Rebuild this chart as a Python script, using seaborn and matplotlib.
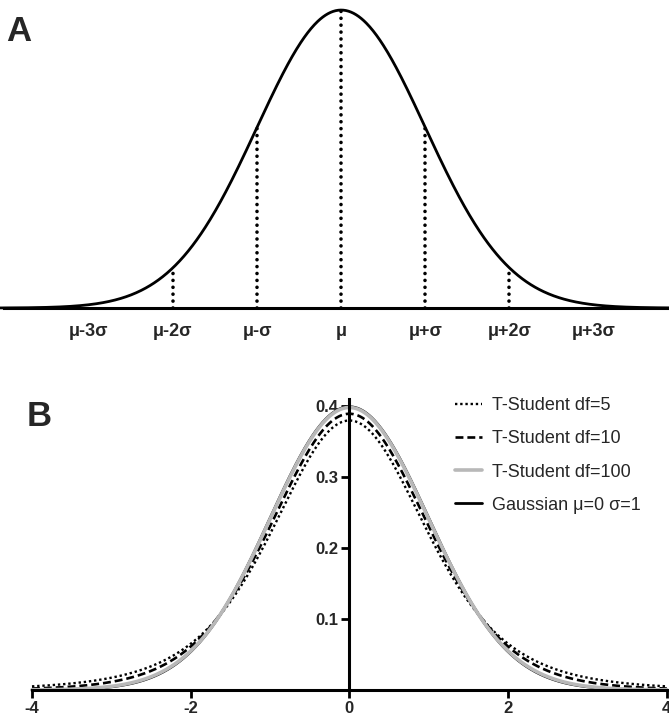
import math
import numpy as np
import pandas as pd
import matplotlib
matplotlib.use("Agg")
import matplotlib.pyplot as plt
import seaborn as sns

# ---- data ----
mu = 0.0
sigma = 1.0
sigma_marks = [-2, -1, 0, 1, 2]                 # dotted guide lines in panel A
a_tick_pos = [-3, -2, -1, 0, 1, 2, 3]
a_tick_labels = ["μ-3σ", "μ-2σ", "μ-σ", "μ", "μ+σ", "μ+2σ", "μ+3σ"]
df_values = [5, 10, 100]
series_labels = ["T-Student df=5", "T-Student df=10", "T-Student df=100", "Gaussian μ=0 σ=1"]
b_xticks = [-4, -2, 0, 2, 4]
b_yticks = [0.1, 0.2, 0.3, 0.4]


def norm_pdf(x, m=0.0, s=1.0):
    return np.exp(-0.5 * ((x - m) / s) ** 2) / (s * math.sqrt(2 * math.pi))


def t_pdf(x, nu):
    c = math.exp(math.lgamma((nu + 1) / 2) - math.lgamma(nu / 2)) / math.sqrt(nu * math.pi)
    return c * (1 + x ** 2 / nu) ** (-(nu + 1) / 2)


sns.set_theme(style="white")
plt.rcParams["font.family"] = ["Liberation Sans", "DejaVu Sans"]

fig = plt.figure(figsize=(6.69, 7.18), dpi=100)

# ---------------- Panel A ----------------
axA = fig.add_axes([0.006, 0.571, 0.994, 0.415])
xa = np.linspace(-4.1, 4.0, 800)
dfa = pd.DataFrame({"x": xa, "y": norm_pdf(xa, mu, sigma)})
sns.lineplot(data=dfa, x="x", y="y", ax=axA, color="black", lw=2.0)
for line in axA.lines:
    line.set_clip_on(False)
for s in sigma_marks:
    axA.plot([mu + s * sigma, mu + s * sigma], [0, norm_pdf(mu + s * sigma, mu, sigma)],
             color="black", lw=2.6, linestyle=(0, (0.01, 1.9)), dash_capstyle="round",
             clip_on=False)
axA.set_xlim(-4.01, 3.90)
axA.set_ylim(0, norm_pdf(0.0))
for sp in ["top", "right", "left"]:
    axA.spines[sp].set_visible(False)
axA.spines["bottom"].set_linewidth(2.2)
axA.spines["bottom"].set_color("black")
axA.set_yticks([])
axA.set_xticks(a_tick_pos)
axA.set_xticklabels(a_tick_labels, fontsize=13, fontweight="bold")
axA.tick_params(axis="x", length=0, pad=11)
axA.set_xlabel("")
axA.set_ylabel("")
fig.text(0.009, 0.956, "A", fontsize=25, fontweight="bold", ha="left", va="center")

# ---------------- Panel B ----------------
axB = fig.add_axes([0.0478, 0.039, 0.949, 0.4054])
xb = np.linspace(-4, 4, 801)
styles = [
    dict(color="black", lw=1.7, linestyle=(0, (1, 1.2))),
    dict(color="black", lw=1.9, linestyle=(0, (3, 1.5))),
    dict(color="#b8b8b8", lw=2.6, linestyle="-"),
]
sns.lineplot(x=xb, y=norm_pdf(xb, mu, sigma), ax=axB, color="black", lw=2.0,
             label=series_labels[3])
for nu, st, lab in zip(df_values, styles, series_labels[:3]):
    sns.lineplot(x=xb, y=t_pdf(xb, nu), ax=axB, label=lab, **st)
for line in axB.lines:
    line.set_clip_on(False)

axB.set_xlim(-4, 4)
axB.set_ylim(0, 0.41)
axB.spines["top"].set_visible(False)
axB.spines["right"].set_visible(False)
axB.spines["left"].set_position(("data", 0))
for sp in ["left", "bottom"]:
    axB.spines[sp].set_linewidth(2.2)
    axB.spines[sp].set_color("black")
axB.set_xticks(b_xticks)
axB.set_xticklabels([str(v) for v in b_xticks], fontsize=12, fontweight="bold")
axB.set_yticks(b_yticks)
axB.set_yticklabels([f"{v:.1f}" for v in b_yticks], fontsize=12, fontweight="bold")
axB.tick_params(axis="both", direction="out", length=6, width=2.0, color="black",
                bottom=True, left=True, pad=2)
axB.set_xlabel("")
axB.set_ylabel("")

h, l = axB.get_legend_handles_labels()
order = [1, 2, 3, 0]
axB.legend([h[i] for i in order], [l[i] for i in order], loc="upper left",
           bbox_to_anchor=(0.680, 0.447), bbox_transform=fig.transFigure,
           frameon=False, fontsize=13, handlelength=1.5, handletextpad=0.55,
           labelspacing=0.9, borderpad=0, borderaxespad=0)
fig.text(0.040, 0.4206, "B", fontsize=25, fontweight="bold", ha="left", va="center")

fig.savefig("out.png", dpi=100)
